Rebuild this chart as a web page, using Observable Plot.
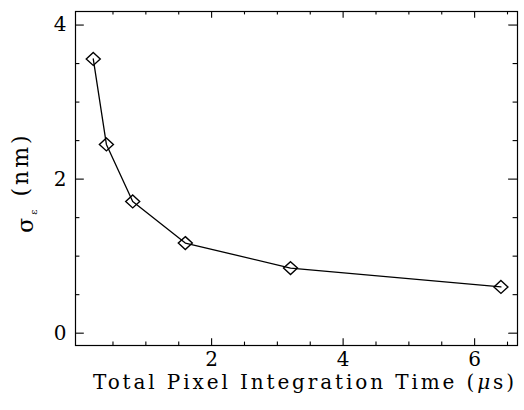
<!DOCTYPE html>
<html>
<head>
<meta charset="utf-8">
<script src="https://cdn.jsdelivr.net/npm/d3@7"></script>
<script src="https://cdn.jsdelivr.net/npm/@observablehq/plot@0.6"></script>
<style>
  html, body { margin: 0; padding: 0; background: #fff; }
</style>
</head>
<body>
<div id="chart"></div>
<script>
// Data
const integrationTime = [0.2, 0.4, 0.8, 1.6, 3.2, 6.4];      // µs
const sigmaEps       = [3.56, 2.45, 1.71, 1.17, 0.845, 0.60]; // nm

const xMajorTicks = [2, 4, 6];
const xMinorTicks = [0.5, 1, 1.5, 2.5, 3, 3.5, 4.5, 5, 5.5, 6.5];
const yMajorTicks = [0, 2, 4];
const yMinorTicks = [0.5, 1, 1.5, 2.5, 3, 3.5];

const xLabelMain = "Total Pixel Integration Time (";
const xLabelMu = "\u03BC";
const xLabelEnd = "s)";
const yLabelSigma = "\u03C3";
const yLabelEps = "\u03B5";
const yLabelUnit = " (nm)";

const data = integrationTime.map((t, i) => ({t, s: sigmaEps[i]}));

const W = 524, H = 410;
const mL = 75, mR = 7, mT = 11, mB = 65;
const pw = W - mL - mR, ph = H - mT - mB;
const FONT = "'DejaVu Serif', 'Liberation Serif', serif";

const diamond = {
  draw(ctx, size) {
    const h = Math.sqrt(size / Math.PI);
    ctx.moveTo(0, -h * 0.92);
    ctx.lineTo(h, 0);
    ctx.lineTo(0, h * 0.92);
    ctx.lineTo(-h, 0);
    ctx.closePath();
  }
};

const xLenMaj = 6.7, xLenMin = 3.4, yLenMaj = 8.8, yLenMin = 4.4;

const chart = Plot.plot({
  width: W, height: H,
  marginLeft: mL, marginRight: mR, marginTop: mT, marginBottom: mB,
  x: {domain: [-0.07, 6.652]},
  y: {domain: [-0.16, 4.176]},
  marks: [
    Plot.frame({stroke: "#000", strokeWidth: 1.2}),
    // inward ticks: bottom & top
    Plot.tickX(xMajorTicks, {x: d => d, insetTop: ph - xLenMaj, stroke: "#000", strokeWidth: 1.1}),
    Plot.tickX(xMajorTicks, {x: d => d, insetBottom: ph - xLenMaj, stroke: "#000", strokeWidth: 1.1}),
    Plot.tickX(xMinorTicks, {x: d => d, insetTop: ph - xLenMin, stroke: "#000", strokeWidth: 1.1}),
    Plot.tickX(xMinorTicks, {x: d => d, insetBottom: ph - xLenMin, stroke: "#000", strokeWidth: 1.1}),
    // inward ticks: left & right
    Plot.tickY(yMajorTicks, {y: d => d, insetRight: pw - yLenMaj, stroke: "#000", strokeWidth: 1.1}),
    Plot.tickY(yMajorTicks, {y: d => d, insetLeft: pw - yLenMaj, stroke: "#000", strokeWidth: 1.1}),
    Plot.tickY(yMinorTicks, {y: d => d, insetRight: pw - yLenMin, stroke: "#000", strokeWidth: 1.1}),
    Plot.tickY(yMinorTicks, {y: d => d, insetLeft: pw - yLenMin, stroke: "#000", strokeWidth: 1.1}),
    Plot.axisX(xMajorTicks, {tickSize: 0, tickPadding: 6, tickFormat: d => String(d), label: null, fontSize: 20}),
    Plot.axisY(yMajorTicks, {tickSize: 0, tickPadding: 9, tickFormat: d => String(d), label: null, fontSize: 20}),
    Plot.line(data, {x: "t", y: "s", stroke: "#000", strokeWidth: 1.3}),
    Plot.dot(data, {x: "t", y: "s", symbol: diamond, r: 7, stroke: "#000", strokeWidth: 1.4, fill: "none"}),
    Plot.text([xLabelMain], {text: d => d, frameAnchor: "bottom", dx: 7, dy: 43, fontSize: 20, fontFamily: FONT, className: "xlab"}),
    Plot.text([yLabelSigma], {text: d => d, frameAnchor: "left", textAnchor: "middle", rotate: -90, dx: -50, dy: 4, fontSize: 22, fontFamily: FONT, className: "ylab"})
  ]
});

document.getElementById("chart").appendChild(chart);

// serif font on every text (inline style)
d3.select(chart).selectAll("text")
  .style("font-family", FONT)
  .style("font-size", "20px")
  .style("font-weight", "normal")
  .style("fill", "#000");

// y label: sigma with subscript epsilon
const yl = d3.select(chart).select(".ylab text");
if (!yl.empty()) {
  yl.text(null).style("font-size", "22px").style("letter-spacing", "3px").attr("text-anchor", "middle");
  yl.append("tspan").text(yLabelSigma);
  yl.append("tspan").style("font-size", "10px").attr("dy", "0.4em").text(yLabelEps);
  yl.append("tspan").attr("dy", "-0.4em").text(yLabelUnit);
}
// x label with italic mu, spaced to reference width
const xl = d3.select(chart).select(".xlab text");
if (!xl.empty()) {
  xl.text(null);
  xl.append("tspan").text(xLabelMain);
  xl.append("tspan").style("font-style", "italic").text(xLabelMu);
  xl.append("tspan").text(xLabelEnd);
  xl.attr("textLength", 421).attr("lengthAdjust", "spacing");
}
</script>
</body>
</html>
